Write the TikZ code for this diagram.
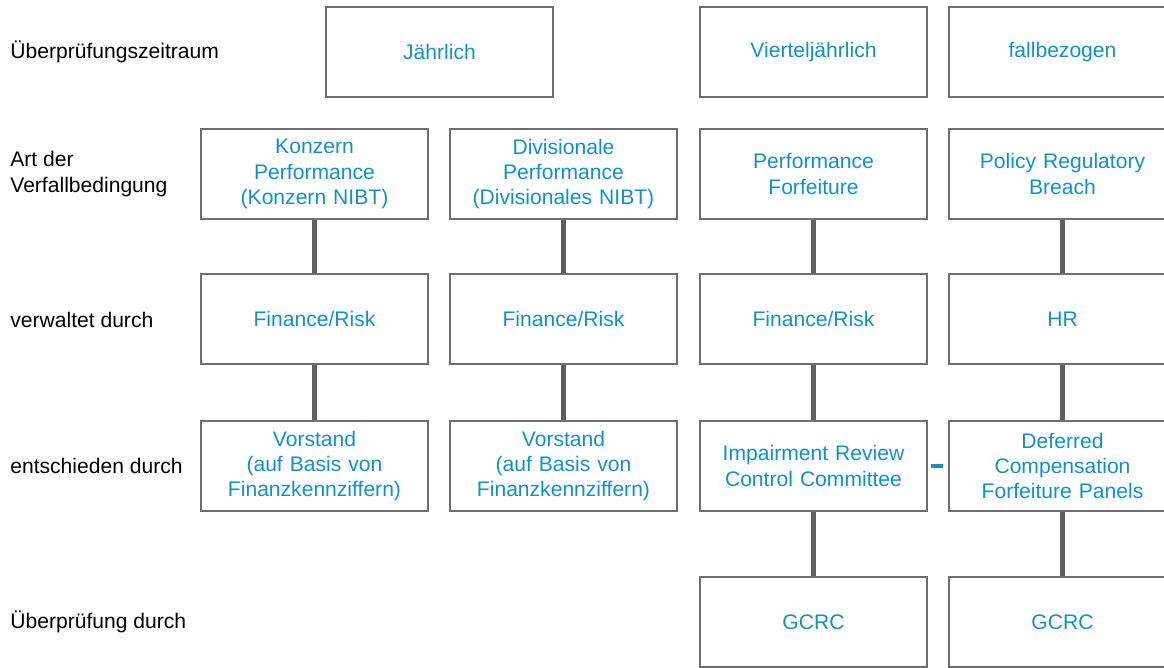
\documentclass[tikz,border=0pt]{standalone}
\usepackage{fontspec}
\setmainfont{Liberation Sans}
\definecolor{textblau}{RGB}{18,146,196}
\definecolor{rahmen}{RGB}{110,110,110}
\definecolor{linie}{RGB}{95,95,95}
\tikzset{
  kasten/.style={draw=rahmen, line width=1.1pt, minimum width=4.54cm, minimum height=1.8cm,
    text width=4.3cm, align=center, text=textblau, font=\fontsize{12}{14.4}\selectfont, inner sep=0pt},
  zeile/.style={anchor=west, align=left, font=\fontsize{12}{14.4}\selectfont, inner sep=0pt},
  verbinder/.style={draw=linie, line width=2.4pt}
}
\begin{document}
\begin{tikzpicture}[x=0.02cm, y=-0.02cm]
\clip (0,0) rectangle (1164,668);
% linke Spalte
\node (z1) at (10,52) [zeile]{Überprüfungszeitraum};
\node (z2) at (10,174) [zeile]{Art der\\Verfallbedingung};
\node (z3) at (10,320) [zeile]{verwaltet durch};
\node (z4) at (10,466) [zeile]{entschieden durch};
\node (z5) at (10,622) [zeile]{Überprüfung durch};
% Zeitraum
\node (jaehrlich) at (439.5,52) [kasten]{Jährlich};
\node (viertel) at (813.5,52) [kasten]{Vierteljährlich};
\node (fall) at (1062.5,52) [kasten]{fallbezogen};
% Verfallbedingung
\node (konzern) at (314.5,174) [kasten]{Konzern\\Performance\\(Konzern NIBT)};
\node (division) at (563.5,174) [kasten]{Divisionale\\Performance\\(Divisionales NIBT)};
\node (perf) at (813.5,174) [kasten]{Performance\\Forfeiture};
\node (policy) at (1062.5,174) [kasten]{Policy Regulatory\\Breach};
% verwaltet
\node (fin1) at (314.5,319) [kasten]{Finance/Risk};
\node (fin2) at (563.5,319) [kasten]{Finance/Risk};
\node (fin3) at (813.5,319) [kasten]{Finance/Risk};
\node (hr) at (1062.5,319) [kasten]{HR};
% entschieden
\node (vor1) at (314.5,466) [kasten]{Vorstand\\(auf Basis von\\Finanzkennziffern)};
\node (vor2) at (563.5,466) [kasten]{Vorstand\\(auf Basis von\\Finanzkennziffern)};
\node (irc) at (813.5,466) [kasten]{Impairment Review\\Control Committee};
\node (dcf) at (1062.5,466) [kasten]{Deferred\\Compensation\\Forfeiture Panels};
% Überprüfung
\node (gcrc1) at (813.5,622) [kasten]{GCRC};
\node (gcrc2) at (1062.5,622) [kasten]{GCRC};
\foreach \a/\b in {konzern/fin1, fin1/vor1, division/fin2, fin2/vor2, perf/fin3, fin3/irc,
  irc/gcrc1, policy/hr, hr/dcf, dcf/gcrc2} {
    \draw[verbinder] (\a.south) -- (\b.north);
}
\draw[draw=textblau, line width=2pt] ([xshift=0.06cm]irc.east) -- ([xshift=-0.1cm]dcf.west); % blauer Strich
\end{tikzpicture}
\end{document}
